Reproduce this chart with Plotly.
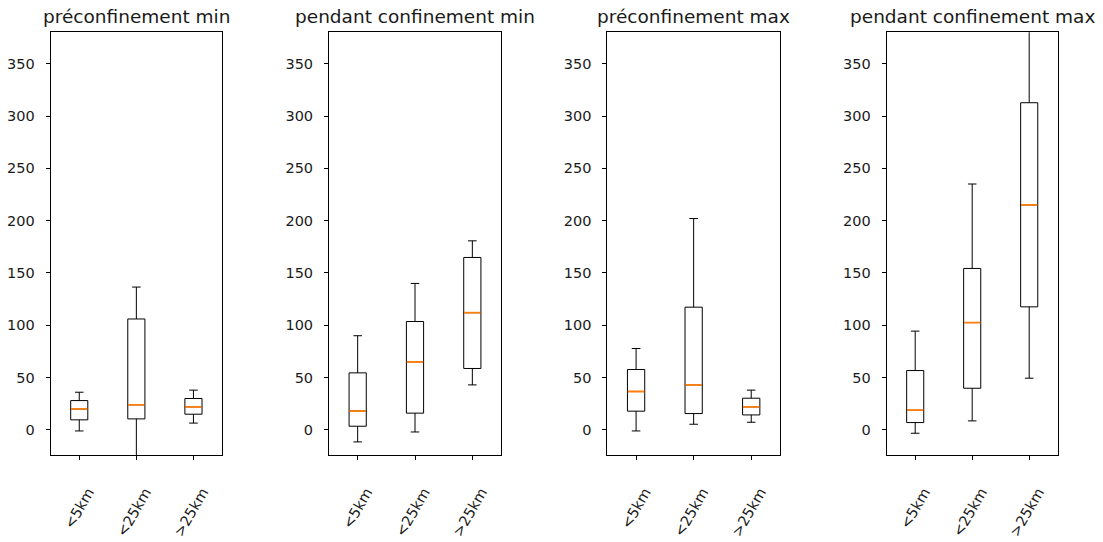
import plotly.graph_objects as go

categories = ["<5km", "<25km", ">25km"]
positions = [1, 2, 3]
titles = ["préconfinement min", "pendant confinement min", "préconfinement max", "pendant confinement max"]

# per panel: lower whisker, Q1, median, Q3, upper whisker (one value per category)
pre_min_low = [-1, -30, 6.5]
pre_min_q1 = [9.6, 10.5, 15]
pre_min_med = [20, 24, 22]
pre_min_q3 = [28, 106, 30]
pre_min_high = [36, 136.5, 38]

pend_min_low = [-11.5, -2, 43]
pend_min_q1 = [3.5, 16, 58.7]
pend_min_med = [18, 65, 112]
pend_min_q3 = [54.5, 103.6, 164.8]
pend_min_high = [90, 140, 180.7]

pre_max_low = [-1, 5.4, 7.3]
pre_max_q1 = [17.9, 15.6, 14.3]
pre_max_med = [36.7, 43, 22]
pre_max_q3 = [57.7, 117.3, 30.3]
pre_max_high = [77.8, 202, 38]

pend_max_low = [-3.2, 8.6, 49.4]
pend_max_q1 = [7, 39.8, 117.6]
pend_max_med = [18.8, 102.6, 215]
pend_max_q3 = [56.7, 154.3, 312.7]
pend_max_high = [94.4, 235, 400]

ytick_vals = [0, 50, 100, 150, 200, 250, 300, 350]

panels = [
    (pre_min_low, pre_min_q1, pre_min_med, pre_min_q3, pre_min_high),
    (pend_min_low, pend_min_q1, pend_min_med, pend_min_q3, pend_min_high),
    (pre_max_low, pre_max_q1, pre_max_med, pre_max_q3, pre_max_high),
    (pend_max_low, pend_max_q1, pend_max_med, pend_max_q3, pend_max_high),
]

W, H = 1103, 542
x_domains = [(50.7, 222), (329, 501), (607.3, 780), (886.7, 1057.7)]
y_top, y_bot = 32.3, 455
ydom = [1 - y_bot / H, 1 - y_top / H]
box_w = 0.3

fig = go.Figure()
layout = {}
annotations = []
shapes = []
font_family = "DejaVu Sans"
text_color = "#1a1a1a"

for i, (low, q1, med, q3, high) in enumerate(panels):
    n = i + 1
    xa = "x" if n == 1 else f"x{n}"
    ya = "y" if n == 1 else f"y{n}"
    fig.add_trace(go.Box(
        x=positions, q1=q1, median=med, q3=q3, lowerfence=low, upperfence=high,
        width=box_w, whiskerwidth=0.5, boxpoints=False,
        line=dict(color="black", width=1), fillcolor="white",
        xaxis=xa, yaxis=ya, showlegend=False, hoverinfo="skip",
    ))
    for p, m in zip(positions, med):
        shapes.append(dict(
            type="line", xref=xa, yref=ya, x0=p - box_w / 2 + 0.005, x1=p + box_w / 2 - 0.005,
            y0=m, y1=m, line=dict(color="#ff7f0e", width=1.8), layer="above",
        ))
    d0, d1 = x_domains[i]
    xkey = "xaxis" if n == 1 else f"xaxis{n}"
    ykey = "yaxis" if n == 1 else f"yaxis{n}"
    layout[xkey] = dict(
        domain=[d0 / W, d1 / W], anchor=ya, range=[0.5, 3.5],
        tickvals=positions, ticktext=categories, tickangle=-60,
        ticklabelstandoff=18, ticklabelshift=9,
        showline=True, mirror=True, linecolor="black", linewidth=1,
        ticks="outside", ticklen=4, tickcolor="black", showgrid=False, zeroline=False,
        tickfont=dict(family=font_family, size=14.5, color=text_color),
    )
    layout[ykey] = dict(
        domain=ydom, anchor=xa, range=[-24, 380],
        tickvals=ytick_vals, ticklabelstandoff=8,
        showline=True, mirror=True, linecolor="black", linewidth=1,
        ticks="outside", ticklen=4, tickcolor="black", showgrid=False, zeroline=False,
        tickfont=dict(family=font_family, size=14.5, color=text_color),
    )
    annotations.append(dict(
        text=titles[i], xref="paper", yref="paper", x=(d0 + d1) / 2 / W, y=ydom[1],
        xanchor="center", yanchor="bottom", yshift=3, showarrow=False,
        font=dict(family=font_family, size=18.5, color=text_color),
    ))

fig.update_layout(
    width=W, height=H, margin=dict(l=0, r=0, t=0, b=0),
    paper_bgcolor="white", plot_bgcolor="white",
    annotations=annotations, shapes=shapes, **layout,
)

fig.write_html("out.html")
